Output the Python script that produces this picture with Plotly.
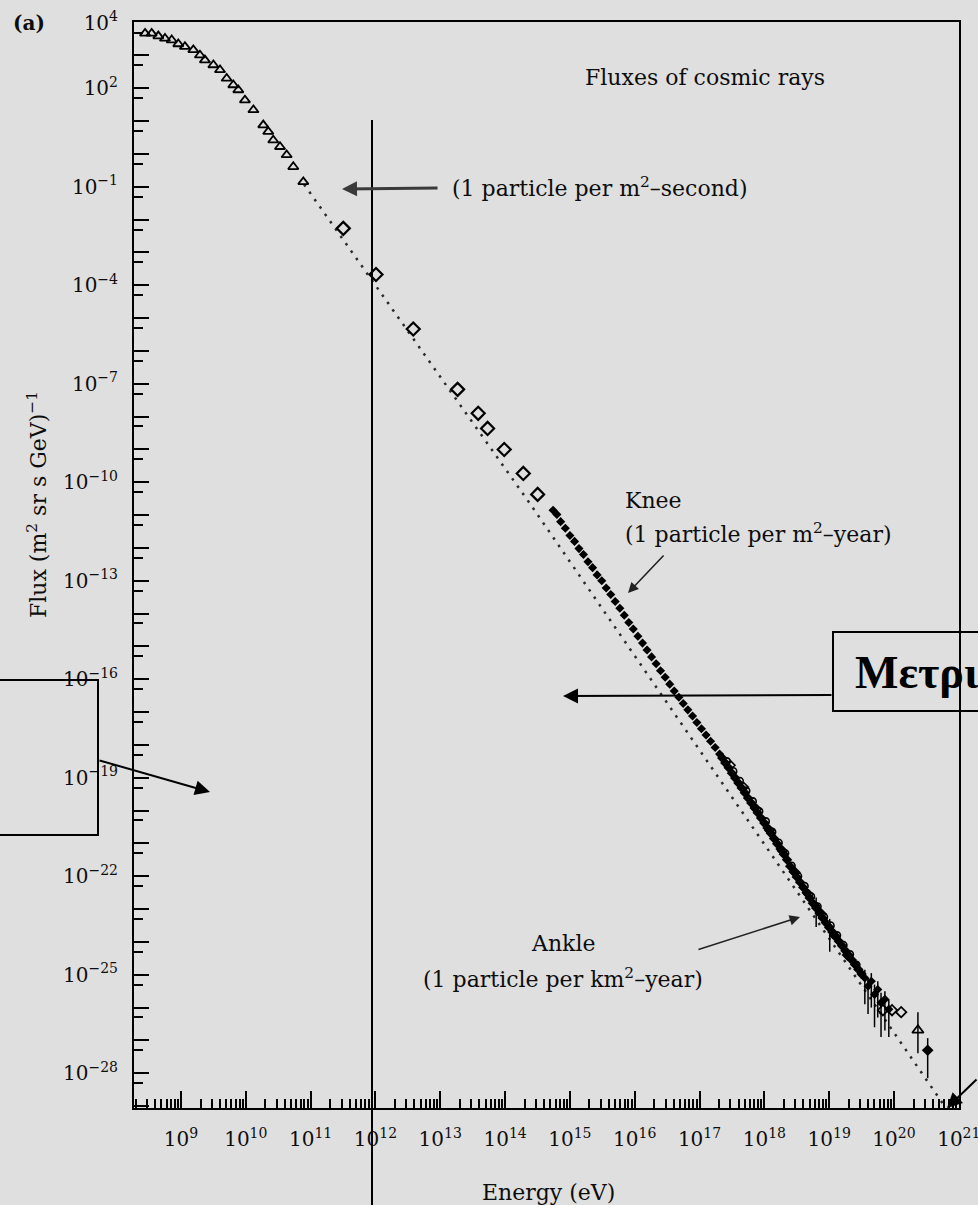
import plotly.graph_objects as go

# ------------------------------------------------------------------
# Data (energy in eV, flux in (m^2 sr s GeV)^-1)
# ------------------------------------------------------------------
# low-energy direct measurements (open triangles)
TRI_E = [2.79e8, 3.53e8, 4.47e8, 5.66e8, 7.19e8, 9.08e8, 1.15e9, 1.55e9,
         1.96e9, 2.34e9, 3.16e9, 4.0e9, 5.07e9, 6.41e9, 7.66e9, 9.7e9,
         1.31e10, 1.86e10, 2.22e10, 2.65e10, 3.37e10, 4.27e10, 5.4e10, 7.71e10]
TRI_F = [4.7e3, 4.7e3, 3.9e3, 3.3e3, 2.95e3, 2.24e3, 1.86e3, 1.48e3,
         1.02e3, 724, 513, 363, 200, 126, 89, 43.7,
         21.9, 7.59, 4.79, 2.63, 1.66, 0.933, 0.407, 0.141]

# balloon / satellite data (open diamonds)
DIA_E = [3.19e11, 1.02e12, 3.83e12, 1.85e13, 3.85e13, 5.37e13, 9.70e13, 1.91e14, 3.18e14]
DIA_F = [5.42e-3, 2.14e-4, 4.68e-6, 6.76e-8, 1.26e-8, 4.37e-9, 1.0e-9, 1.86e-10, 4.27e-11]

# air-shower data around the knee (filled diamonds)
KNEE_E = [5.5e14, 6.3e14, 7.2e14, 8.5e14, 1.0e15, 1.18e15, 1.38e15, 1.62e15,
          1.9e15, 2.24e15, 2.63e15, 3.1e15, 3.63e15, 4.27e15, 5.0e15, 5.9e15,
          6.9e15, 8.1e15, 9.5e15, 1.12e16, 1.32e16, 1.55e16, 1.82e16, 2.14e16,
          2.5e16, 2.95e16, 3.47e16, 4.07e16, 4.8e16, 5.6e16, 6.6e16, 7.8e16,
          9.1e16, 1.07e17, 1.26e17, 1.48e17, 1.74e17, 2.04e17]
KNEE_F = [1.41e-11, 1.05e-11, 6.31e-12, 3.98e-12, 2.40e-12, 1.58e-12, 9.55e-13, 6.31e-13,
          3.80e-13, 2.51e-13, 1.51e-13, 1.00e-13, 6.03e-14, 3.80e-14, 2.34e-14, 1.45e-14,
          8.91e-15, 5.37e-15, 3.39e-15, 2.04e-15, 1.26e-15, 7.76e-16, 4.79e-16, 2.95e-16,
          1.82e-16, 1.15e-16, 7.08e-17, 4.37e-17, 2.82e-17, 1.82e-17, 1.17e-17, 7.59e-18,
          4.79e-18, 3.09e-18, 2.00e-18, 1.29e-18, 8.32e-19, 5.25e-19]

# dense band between knee and ankle (filled diamonds)
BAND_E = [2.24e17, 2.5e17, 2.82e17, 3.16e17, 3.55e17, 3.98e17, 4.47e17, 5.0e17,
          5.6e17, 6.3e17, 7.1e17, 7.9e17, 8.9e17, 1.0e18, 1.12e18, 1.26e18,
          1.41e18, 1.58e18, 1.78e18, 2.0e18, 2.24e18, 2.5e18, 2.82e18, 3.16e18,
          3.55e18, 3.98e18, 4.47e18, 5.0e18, 5.6e18, 6.3e18, 7.1e18, 7.9e18,
          8.9e18, 1.0e19, 1.12e19, 1.26e19, 1.41e19, 1.58e19, 1.78e19, 2.0e19,
          2.24e19, 2.5e19, 2.82e19, 3.16e19]
BAND_F = [3.98e-19, 2.82e-19, 2.00e-19, 1.38e-19, 9.77e-20, 6.92e-20, 4.90e-20, 3.47e-20,
          2.40e-20, 1.70e-20, 1.20e-20, 8.51e-21, 5.89e-21, 4.17e-21, 2.95e-21, 2.04e-21,
          1.41e-21, 9.77e-22, 6.76e-22, 4.68e-22, 3.16e-22, 2.00e-22, 1.38e-22, 9.55e-23,
          6.61e-23, 4.57e-23, 3.16e-23, 2.19e-23, 1.51e-23, 1.07e-23, 7.59e-24, 5.37e-24,
          3.80e-24, 2.75e-24, 2.00e-24, 1.45e-24, 1.05e-24, 7.59e-25, 5.37e-25, 3.89e-25,
          2.82e-25, 2.04e-25, 1.45e-25, 1.05e-25]

# second experiment overlapping the band (open circles)
BAND2_E = [2.63e17, 3.31e17, 4.17e17, 5.25e17, 6.61e17, 8.32e17, 1.05e18, 1.32e18,
           1.66e18, 2.09e18, 2.63e18, 3.31e18, 4.17e18, 5.25e18, 6.61e18, 8.32e18,
           1.05e19, 1.32e19, 1.66e19, 2.09e19, 2.63e19]
BAND2_F = [3.16e-19, 1.58e-19, 7.94e-20, 3.98e-20, 1.91e-20, 9.55e-21, 4.68e-21, 2.24e-21,
           1.05e-21, 5.01e-22, 2.09e-22, 1.00e-22, 5.01e-23, 2.40e-23, 1.20e-23, 5.75e-24,
           3.16e-24, 1.58e-24, 7.94e-25, 4.17e-25, 2.00e-25]

# third experiment, slightly above the band (open diamonds)
BAND3_E = [3.0e17, 4.8e17, 7.6e17, 1.2e18, 1.9e18, 3.0e18, 4.8e18, 7.6e18, 1.2e19, 1.9e19]
BAND3_F = [2.4e-19, 5.2e-20, 1.1e-20, 2.5e-21, 5.9e-22, 1.3e-22, 2.8e-23, 7.1e-24, 1.6e-24, 4.0e-25]

# highest-energy points with error bars (filled)
TAIL_E = [6.3e18, 1.02e19, 3.55e19, 3.98e19, 4.47e19, 5.01e19, 5.62e19, 6.31e19, 7.24e19, 8.32e19]
TAIL_F = [1.26e-23, 2.82e-24, 7.94e-26, 4.47e-26, 6.31e-26, 2.51e-26, 3.55e-26, 1.41e-26, 1.78e-26, 8.91e-27]
TAIL_LO = [2.82e-24, 5.01e-25, 1.26e-26, 6.31e-27, 1.0e-26, 2.51e-27, 5.01e-27, 1.26e-27, 2.0e-27, 1.26e-27]
TAIL_HI = [2.24e-23, 5.01e-24, 1.41e-25, 7.94e-26, 1.12e-25, 5.01e-26, 6.31e-26, 2.82e-26, 3.16e-26, 1.78e-26]

# open markers at the end of the spectrum
END_OPEN_E = [6.76e19, 9.33e19, 1.29e20]
END_OPEN_F = [8.32e-27, 8.32e-27, 7.24e-27]

# last two points (open triangle, filled diamond) with error bars
LAST_TRI_E, LAST_TRI_F, LAST_TRI_LO, LAST_TRI_HI = [2.34e20], [2.04e-27], [4.07e-28], [7.24e-27]
LAST_DOT_E, LAST_DOT_F, LAST_DOT_LO, LAST_DOT_HI = [3.31e20], [5.01e-28], [7.08e-29], [1.17e-27]

# dotted reference power law
REF_E = [7.94e10, 2.40e14, 6.31e20]
REF_F = [0.1175, 2.29e-11, 8.71e-30]

# tick labels
X_LABEL_EXP = [9, 10, 11, 12, 13, 14, 15, 16, 17, 18, 19, 20, 21]
Y_LABEL_EXP = [4, 2, -1, -4, -7, -10, -13, -16, -19, -22, -25, -28]

# ------------------------------------------------------------------
BG = "#dfdfdf"
INK = "#0d0d0d"
FONT = "DejaVu Serif"

# plot area in pixels (for placing overlay items in paper coordinates)
PL, PR, PT, PB = 134, 959, 22, 1108


def px(xp):
    return (xp - PL) / (PR - PL)


def py(yp):
    return (PB - yp) / (PB - PT)


fig = go.Figure()

fig.add_trace(go.Scatter(x=REF_E, y=REF_F, mode="lines",
                         line=dict(color="#2a2a2a", width=2.5, dash="2.5px,6.5px"), hoverinfo="skip"))
fig.add_trace(go.Scatter(x=TRI_E, y=TRI_F, mode="markers",
                         marker=dict(symbol="triangle-up-open", size=9, color="black",
                                     line=dict(width=1.8, color="black"))))
fig.add_trace(go.Scatter(x=DIA_E, y=DIA_F, mode="markers",
                         marker=dict(symbol="diamond-open", size=10, color="black",
                                     line=dict(width=2.2, color="black"))))
fig.add_trace(go.Scatter(x=KNEE_E, y=KNEE_F, mode="markers",
                         marker=dict(symbol="diamond", size=7, color="black")))
fig.add_trace(go.Scatter(x=BAND_E, y=BAND_F, mode="markers",
                         marker=dict(symbol="diamond", size=8, color="black")))
fig.add_trace(go.Scatter(x=BAND2_E, y=BAND2_F, mode="markers",
                         marker=dict(symbol="circle-open", size=7, color="black",
                                     line=dict(width=1.6, color="black"))))
fig.add_trace(go.Scatter(x=BAND3_E, y=BAND3_F, mode="markers",
                         marker=dict(symbol="diamond-open", size=7, color="black",
                                     line=dict(width=1.6, color="black"))))
fig.add_trace(go.Scatter(
    x=TAIL_E, y=TAIL_F, mode="markers",
    marker=dict(symbol="diamond", size=7, color="black"),
    error_y=dict(type="data", symmetric=False,
                 array=[h - f for h, f in zip(TAIL_HI, TAIL_F)],
                 arrayminus=[f - l for f, l in zip(TAIL_F, TAIL_LO)],
                 thickness=1.5, width=0, color="black")))
fig.add_trace(go.Scatter(x=END_OPEN_E, y=END_OPEN_F, mode="markers",
                         marker=dict(symbol="diamond-open", size=8, color="black",
                                     line=dict(width=1.8, color="black"))))
fig.add_trace(go.Scatter(
    x=LAST_TRI_E, y=LAST_TRI_F, mode="markers",
    marker=dict(symbol="triangle-up-open", size=10, color="black", line=dict(width=1.8, color="black")),
    error_y=dict(type="data", symmetric=False,
                 array=[h - f for h, f in zip(LAST_TRI_HI, LAST_TRI_F)],
                 arrayminus=[f - l for f, l in zip(LAST_TRI_F, LAST_TRI_LO)],
                 thickness=1.5, width=0, color="black")))
fig.add_trace(go.Scatter(
    x=LAST_DOT_E, y=LAST_DOT_F, mode="markers",
    marker=dict(symbol="diamond", size=9, color="black"),
    error_y=dict(type="data", symmetric=False,
                 array=[h - f for h, f in zip(LAST_DOT_HI, LAST_DOT_F)],
                 arrayminus=[f - l for f, l in zip(LAST_DOT_F, LAST_DOT_LO)],
                 thickness=1.5, width=0, color="black")))

# ---------------- axes ----------------
x_tickvals = [10.0 ** k for k in X_LABEL_EXP]
x_ticktext = ["10<sup>%d</sup>" % k for k in X_LABEL_EXP]
x_minor = [m * 10.0 ** k for k in range(8, 21) for m in range(2, 10)]

y_decades = list(range(-29, 5))
y_tickvals = [10.0 ** k for k in y_decades]
y_ticktext = [("10<sup>%s</sup>" % (str(k).replace("-", "−")) if k in Y_LABEL_EXP else "")
              for k in y_decades]
y_minor = [5 * 10.0 ** k for k in range(-30, 4)]

fig.update_xaxes(
    type="log", range=[8.275, 21.003], showgrid=False, zeroline=False,
    showline=True, linecolor="black", linewidth=2, mirror=True, automargin=False,
    ticks="inside", ticklen=17, tickwidth=2, tickcolor="black",
    tickmode="array", tickvals=x_tickvals, ticktext=x_ticktext,
    ticklabelstandoff=12, ticklabeloverflow="allow",
    tickfont=dict(family=FONT, size=20, color=INK),
    minor=dict(ticks="inside", ticklen=9, tickwidth=1.5, tickcolor="black",
               tickmode="array", tickvals=x_minor, showgrid=False),
)
fig.update_yaxes(
    type="log", range=[-29.06, 4.02], showgrid=False, zeroline=False,
    showline=True, linecolor="black", linewidth=2, mirror=True, automargin=False,
    ticks="inside", ticklen=15, tickwidth=2, tickcolor="black",
    tickmode="array", tickvals=y_tickvals, ticktext=y_ticktext,
    ticklabelstandoff=10, ticklabeloverflow="allow",
    tickfont=dict(family=FONT, size=20, color=INK),
    minor=dict(ticks="inside", ticklen=9, tickwidth=1.5, tickcolor="black",
               tickmode="array", tickvals=y_minor, showgrid=False),
)

# ---------------- text of the original figure ----------------
ann = []


def text(x, y, s, size=22, xanchor="left", angle=0, color=INK, family=FONT):
    ann.append(dict(xref="paper", yref="paper", x=x, y=y, text=s, showarrow=False,
                    xanchor=xanchor, yanchor="middle", textangle=angle,
                    font=dict(family=family, size=size, color=color)))


def arrow(hx, hy, tx, ty, color="black", width=2, size=1.5):
    ann.append(dict(xref="paper", yref="paper", x=px(hx), y=py(hy), text="",
                    showarrow=True, arrowhead=2, arrowsize=size, arrowwidth=width,
                    arrowcolor=color, ax=tx - hx, ay=ty - hy))


text(px(29), py(23), "<b>(a)</b>", size=20, xanchor="center")
text(px(583), py(78), "Fluxes of cosmic rays")
text(px(450), py(187), "(1 particle per m<sup>2</sup>–second)")
text(px(623), py(500), "Knee")
text(px(623), py(533), "(1 particle per m<sup>2</sup>–year)")
text(px(563), py(943), "Ankle", xanchor="center")
text(px(563), py(978), "(1 particle per km<sup>2</sup>–year)", xanchor="center")
text(px(37), py(505), "Flux (m<sup>2</sup> sr s GeV)<sup>−1</sup>", xanchor="center", angle=-90)
text(px(548), py(1192), "Energy (eV)", xanchor="center")

arrow(342, 189, 439, 188, color="#3a3a3a", width=3, size=1.0)
arrow(628, 593, 665, 554, color="#222222", width=1.6, size=1.3)
arrow(800, 917, 697, 950, color="#222222", width=1.6, size=1.3)

# ---------------- overlay added on top of the figure ----------------
text(px(853), py(672), "<b>Μετρι</b>", size=46, family="Liberation Serif", color="black")
arrow(563, 696, 833, 695, color="black", width=2, size=1.5)
arrow(210, 792, 98, 760, color="black", width=2, size=1.5)
arrow(947, 1108, 990, 1078, color="black", width=2, size=1.5)

shapes = [
    dict(type="line", xref="paper", yref="paper", x0=px(372), x1=px(372), y0=py(120), y1=py(1210),
         line=dict(color="black", width=2)),
    dict(type="rect", xref="paper", yref="paper", x0=px(-6), x1=px(98), y0=py(835), y1=py(680),
         line=dict(color="black", width=2), fillcolor="rgba(0,0,0,0)"),
    dict(type="rect", xref="paper", yref="paper", x0=px(833), x1=px(1000), y0=py(711), y1=py(632),
         line=dict(color="black", width=2), fillcolor="rgba(0,0,0,0)"),
]

fig.update_layout(
    width=978, height=1205, autosize=False,
    margin=dict(l=PL, r=978 - PR, t=PT, b=1205 - PB, pad=0, autoexpand=False),
    paper_bgcolor=BG, plot_bgcolor=BG, showlegend=False,
    font=dict(family=FONT, size=20, color=INK),
    annotations=ann, shapes=shapes,
)

fig.write_html("out.html")
